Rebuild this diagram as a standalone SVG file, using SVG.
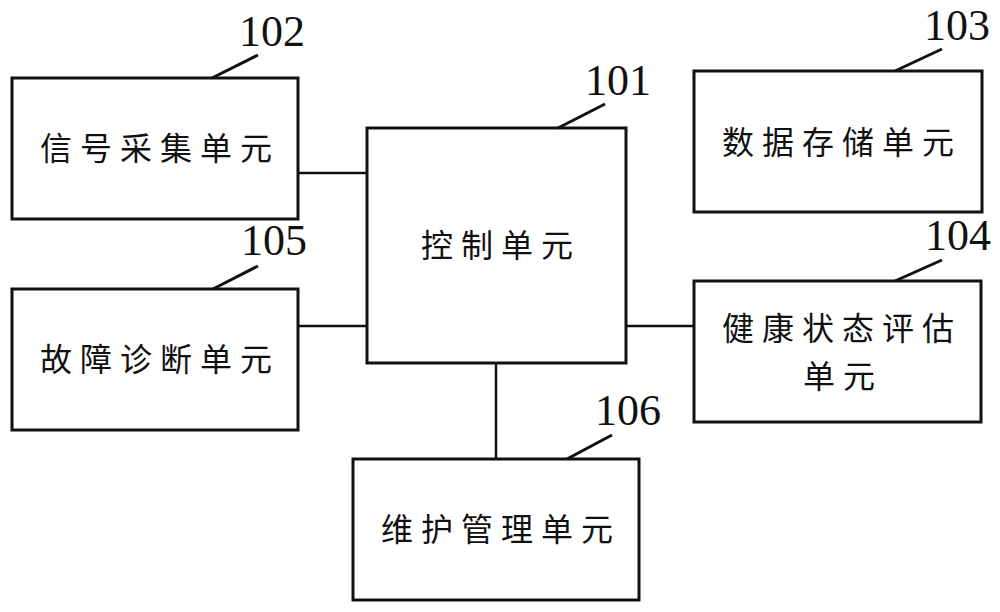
<svg xmlns="http://www.w3.org/2000/svg" width="1000" height="612" viewBox="0 0 1000 612">
<style>
.box{fill:#fff;stroke:#111;stroke-width:3}
.lbl{font-family:"Noto Sans CJK SC","Noto Sans CJK JP",sans-serif;font-size:32px;letter-spacing:8px;fill:#111;text-anchor:middle}
.num{font-family:"Liberation Serif","Times New Roman",serif;font-size:44px;fill:#111;text-anchor:middle}
.lead{stroke:#111;stroke-width:3;fill:none}
.conn{stroke:#111;stroke-width:2.5;fill:none}
</style>
<rect width="1000" height="612" fill="#fff"/>
<g id="connectors">
<line class="conn" x1="298" y1="173" x2="367" y2="173"/>
<line class="conn" x1="298" y1="326" x2="367" y2="326"/>
<line class="conn" x1="626" y1="326" x2="694" y2="326"/>
<line class="conn" x1="496" y1="363" x2="496" y2="459"/>
</g>
<g id="n101">
<rect class="box" x="367" y="128" width="259" height="235"/>
<text class="lbl" x="501" y="257">控制单元</text>
<line class="lead" x1="558" y1="128" x2="605" y2="104"/>
<text class="num" x="618" y="95">101</text>
</g>
<g id="n102">
<rect class="box" x="12" y="78" width="286" height="141"/>
<text class="lbl" x="160" y="160">信号采集单元</text>
<line class="lead" x1="212" y1="78" x2="258" y2="55"/>
<text class="num" x="272" y="46">102</text>
</g>
<g id="n103">
<rect class="box" x="694" y="71" width="288" height="141"/>
<text class="lbl" x="842" y="154">数据存储单元</text>
<line class="lead" x1="895" y1="71" x2="942" y2="49"/>
<text class="num" x="957" y="40">103</text>
</g>
<g id="n104">
<rect class="box" x="694" y="281" width="287" height="141"/>
<text class="lbl" x="842" y="340">健康状态评估</text>
<text class="lbl" x="843" y="388">单元</text>
<line class="lead" x1="895" y1="281" x2="942" y2="260"/>
<text class="num" x="958" y="250">104</text>
</g>
<g id="n105">
<rect class="box" x="12" y="289" width="286" height="141"/>
<text class="lbl" x="160" y="371">故障诊断单元</text>
<line class="lead" x1="213" y1="289" x2="258" y2="266"/>
<text class="num" x="274" y="255">105</text>
</g>
<g id="n106">
<rect class="box" x="353" y="459" width="286" height="141"/>
<text class="lbl" x="501" y="541">维护管理单元</text>
<line class="lead" x1="567" y1="459" x2="612" y2="435"/>
<text class="num" x="628" y="425">106</text>
</g>
</svg>
